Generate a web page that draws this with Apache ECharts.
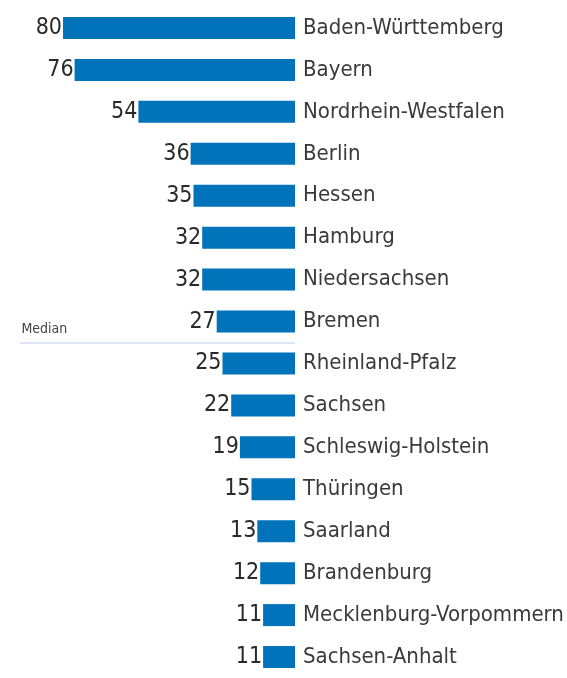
<!DOCTYPE html>
<html>
<head>
<meta charset="utf-8">
<script src="https://cdn.jsdelivr.net/npm/echarts@6/dist/echarts.min.js"></script>
<style>
  html,body{margin:0;padding:0;background:#fff;}
  #main{width:567px;height:678px;}
</style>
</head>
<body>
<div id="main"></div>
<script>
var states = ['Baden-Württemberg','Bayern','Nordrhein-Westfalen','Berlin','Hessen','Hamburg',
  'Niedersachsen','Bremen','Rheinland-Pfalz','Sachsen','Schleswig-Holstein','Thüringen',
  'Saarland','Brandenburg','Mecklenburg-Vorpommern','Sachsen-Anhalt'];
var values = [80,76,54,36,35,32,32,27,25,22,19,15,13,12,11,11];
// median sits between row 8 (Bremen) and row 9 (Rheinland-Pfalz)
var medianRow = 7.5;
var medianLabel = 'Median';

var font = '"DejaVu Sans Condensed",sans-serif';
var chart = echarts.init(document.getElementById('main'));
var option = {
  animation: false,
  grid: {left: 5, top: 7, width: 290, height: 675, containLabel: false},
  xAxis: {
    type: 'value', min: 0, max: 100, inverse: true, show: false
  },
  yAxis: [
    {
      type: 'category', data: states, inverse: true, position: 'right',
      axisLine: {show: false}, axisTick: {show: false},
      axisLabel: {margin: 8, color: '#3a3a3a', fontSize: 22, fontFamily: font}
    },
    {
      type: 'value', min: -0.5, max: 15.5, inverse: true, show: false
    }
  ],
  series: [
    {
      type: 'bar', data: values, barWidth: 22,
      itemStyle: {color: '#0073bb'},
      label: {show: true, position: 'left', distance: 1, color: '#2a2a2a',
        fontSize: 23, fontFamily: font}
    },
    {
      type: 'line', yAxisIndex: 1, data: [], silent: true,
      markLine: {
        symbol: 'none', silent: true,
        lineStyle: {color: '#dce5f5', width: 2, type: 'solid'},
        label: {show: true, position: 'insideStartTop', formatter: medianLabel,
          color: '#444', fontSize: 14, fontFamily: font, distance: [2, 6]},
        data: [[{coord: [95, medianRow]}, {coord: [0, medianRow]}]]
      }
    }
  ]
};
chart.setOption(option);
</script>
</body>
</html>
